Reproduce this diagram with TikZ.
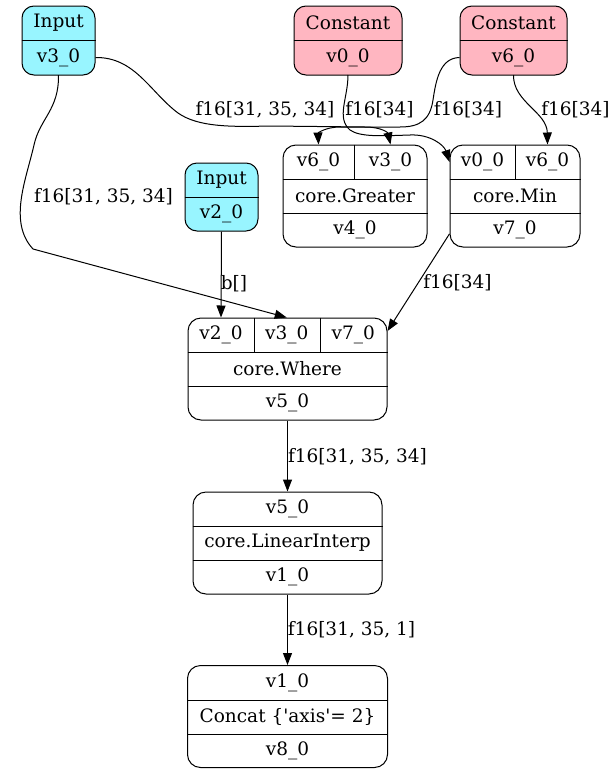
\documentclass[tikz,border=0pt]{standalone}
\usepackage{fontspec}
\setmainfont{DejaVu Serif}
\usetikzlibrary{arrows.meta}
\definecolor{inputcol}{RGB}{152,245,255}
\definecolor{constcol}{RGB}{255,182,193}

\begin{document}
\begin{tikzpicture}[x=1pt, y=-1pt, line width=1pt,
  font=\fontsize{18.5}{22}\selectfont,
  box/.style={draw, rounded corners=13pt, inner sep=0pt, minimum height=102pt},
  smallbox/.style={draw, rounded corners=12pt, inner sep=0pt, minimum height=69pt},
  cell/.style={inner sep=0pt, minimum height=34pt},
  edge/.style={-{Triangle[length=12pt, width=9pt]}},
  lbl/.style={inner sep=0pt}]
\useasboundingbox (0,0) rectangle (613,774);

% sources
\node[smallbox, fill=inputcol, minimum width=73pt] (in3) at (58.5,40.5) {};
\node[cell, minimum width=73pt] (in3a) at (58.5,23) {Input};
\node[cell, minimum width=73pt] (in3b) at (58.5,57.5) {v3\_0};
\draw (in3a.south west) -- (in3a.south east);

\node[smallbox, fill=constcol, minimum width=108pt] (c0) at (348,40.5) {};
\node[cell, minimum width=108pt] (c0a) at (348,23) {Constant};
\node[cell, minimum width=108pt] (c0b) at (348,57.5) {v0\_0};
\draw (c0a.south west) -- (c0a.south east);

\node[smallbox, fill=constcol, minimum width=107pt] (c6) at (513.5,40.5) {};
\node[cell, minimum width=107pt] (c6a) at (513.5,23) {Constant};
\node[cell, minimum width=107pt] (c6b) at (513.5,57.5) {v6\_0};
\draw (c6a.south west) -- (c6a.south east);

\node[smallbox, fill=inputcol, minimum width=73pt, minimum height=68pt] (in2) at (221.5,197) {};
\node[cell, minimum width=73pt] (in2a) at (221.5,180) {Input};
\node[cell, minimum width=73pt] (in2b) at (221.5,214) {v2\_0};
\draw (in2a.south west) -- (in2a.south east);

% core.Greater
\node[box, minimum width=144pt] (gr) at (355,196) {};
\node[cell, minimum width=71pt] (gr6) at (318.5,162) {v6\_0};
\node[cell, minimum width=73pt] (gr3) at (390.5,162) {v3\_0};
\node[cell, minimum width=144pt] (grop) at (355,196) {core.Greater};
\node[cell, minimum width=144pt] (grout) at (355,230) {v4\_0};
\draw (gr6.south west) -- (gr3.south east);
\draw (grop.south west) -- (grop.south east);
\draw (gr6.north east) -- (gr6.south east);

% core.Min
\node[box, minimum width=130pt] (mn) at (515,196) {};
\node[cell, minimum width=65pt] (mn0) at (482.5,162) {v0\_0};
\node[cell, minimum width=65pt] (mn6) at (547.5,162) {v6\_0};
\node[cell, minimum width=130pt] (mnop) at (515,196) {core.Min};
\node[cell, minimum width=130pt] (mnout) at (515,230) {v7\_0};
\draw (mn0.south west) -- (mn6.south east);
\draw (mnop.south west) -- (mnop.south east);
\draw (mn0.north east) -- (mn0.south east);

% core.Where
\node[box, minimum width=199pt] (wh) at (287.5,369) {};
\node[cell, minimum width=66pt] (wh2) at (221,335) {v2\_0};
\node[cell, minimum width=65.5pt] (wh3) at (286.75,335) {v3\_0};
\node[cell, minimum width=67.5pt] (wh7) at (353.25,335) {v7\_0};
\node[cell, minimum width=199pt] (whop) at (287.5,369) {core.Where};
\node[cell, minimum width=199pt] (whout) at (287.5,403) {v5\_0};
\draw (wh2.south west) -- (wh7.south east);
\draw (whop.south west) -- (whop.south east);
\draw (wh2.north east) -- (wh2.south east);
\draw (wh3.north east) -- (wh3.south east);

% core.LinearInterp
\node[box, minimum width=189pt] (li) at (287.5,543) {};
\node[cell, minimum width=189pt] (liin) at (287.5,509) {v5\_0};
\node[cell, minimum width=189pt] (liop) at (287.5,543) {core.LinearInterp};
\node[cell, minimum width=189pt] (liout) at (287.5,577) {v1\_0};
\draw (liin.south west) -- (liin.south east);
\draw (liop.south west) -- (liop.south east);

% Concat
\node[box, minimum width=200pt] (cc) at (287.5,716.5) {};
\node[cell, minimum width=200pt] (ccin) at (287.5,682.5) {v1\_0};
\node[cell, minimum width=200pt] (ccop) at (287.5,716.5) {Concat \{\textquotesingle axis\textquotesingle= 2\}};
\node[cell, minimum width=200pt] (ccout) at (287.5,750.5) {v8\_0};
\draw (ccin.south west) -- (ccin.south east);
\draw (ccop.south west) -- (ccop.south east);

% edges
\draw[edge] (in3b.south) .. controls (59,110) and (40,118) .. (34,145)
  .. controls (26,180) and (8,222) .. (33,249) -- (wh3.north);
\draw[edge] (in3b.east) .. controls (135,57) and (150,92) .. (178,113)
  .. controls (198,127) and (230,127) .. (270,126) -- (365,127)
  .. controls (382,127) and (388,133) .. (gr3.north);
\draw[edge] (c0b.south) .. controls (348,98) and (336,118) .. (350,130)
  .. controls (360,137) and (380,136) .. (410,135)
  .. controls (430,134) and (444,145) .. (mn0.west);
\draw[edge] (c6b.west) .. controls (440,58) and (436,80) .. (433,100)
  .. controls (430,120) and (420,127) .. (400,127) -- (340,127)
  .. controls (326,127) and (318,133) .. (gr6.north);
\draw[edge] (c6b.south) .. controls (513,102) and (547,112) .. (mn6.north);
\draw[edge] (in2b.south) -- (wh2.north);
\draw[edge] (mn.-150) -- ([yshift=4pt]wh7.east);
\draw[edge] (wh.south) -- (li.north);
\draw[edge] (li.south) -- (cc.north);

% edge labels
\node[lbl] (l1) at (103.5,197) {f16[31, 35, 34]};
\node[lbl] (l2) at (265,110) {f16[31, 35, 34]};
\node[lbl] (l3) at (379.5,110) {f16[34]};
\node[lbl] (l4) at (468,110) {f16[34]};
\node[lbl] (l5) at (575.5,110) {f16[34]};
\node[lbl] (l6) at (234,284) {b[]};
\node[lbl] (l7) at (457.5,283) {f16[34]};
\node[lbl] (l8) at (357.5,457) {f16[31, 35, 34]};
\node[lbl] (l9) at (351.5,630) {f16[31, 35, 1]};
\end{tikzpicture}
\end{document}
